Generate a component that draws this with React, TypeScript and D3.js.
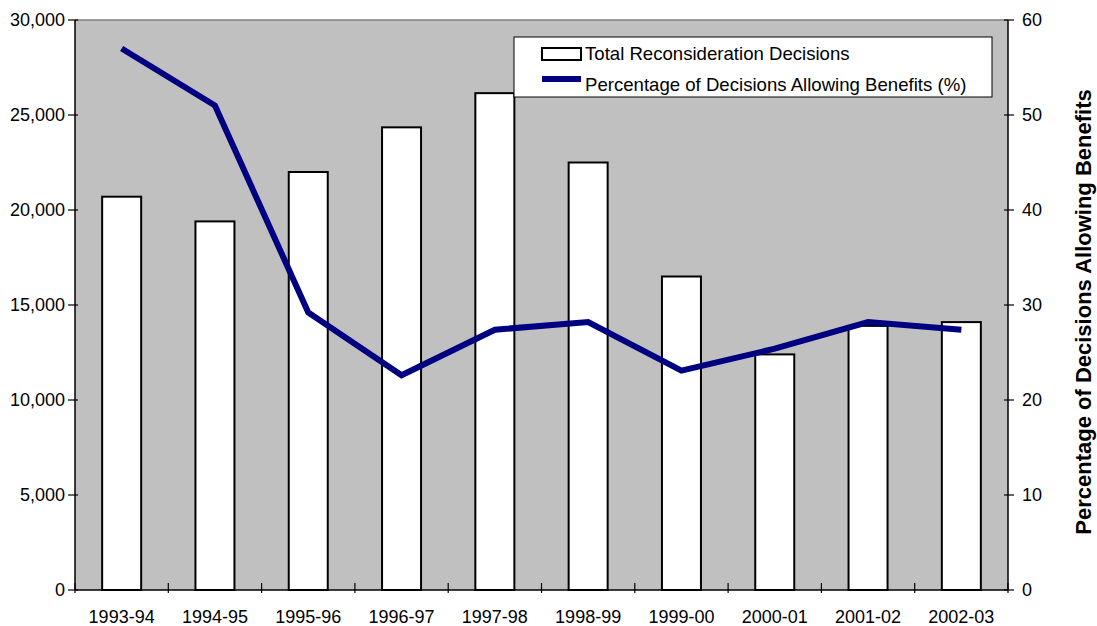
import React from "react";
import * as d3 from "d3";

const categories = ["1993-94", "1994-95", "1995-96", "1996-97", "1997-98", "1998-99", "1999-00", "2000-01", "2001-02", "2002-03"];
const totalDecisions = [20700, 19400, 22000, 24350, 26150, 22500, 16500, 12400, 13900, 14100];
const pctAllowing = [57, 51, 29.2, 22.6, 27.4, 28.2, 23.1, 25.4, 28.2, 27.4];
const leftTicks = [0, 5000, 10000, 15000, 20000, 25000, 30000];
const rightTicks = [0, 10, 20, 30, 40, 50, 60];
const legendLabels = ["Total Reconsideration Decisions", "Percentage of Decisions Allowing Benefits (%)"];
const rightTitle = "Percentage of Decisions Allowing Benefits";

const W = 1097, H = 626;
const L = 75, R = 1008, T = 20, B = 590;
const font = "'Liberation Sans', Arial, sans-serif";

export default function App() {
  const x = d3.scaleBand<string>().domain(categories).range([L, R]).paddingInner(0).paddingOuter(0);
  const bw = 39;
  const yL = d3.scaleLinear().domain([0, 30000]).range([B, T]);
  const yR = d3.scaleLinear().domain([0, 60]).range([B, T]);
  const fmt = d3.format(",");
  const line = d3.line<number>()
    .x((_, i) => (x(categories[i]) as number) + x.bandwidth() / 2)
    .y((d) => yR(d));
  const boundaries = categories.map((c) => x(c) as number).concat([R]);

  return (
    <svg width={W} height={H} style={{ position: "absolute", left: 0, top: 0, background: "#fff" }} fontFamily={font}>
      <rect x={L} y={T} width={R - L} height={B - T} fill="#c0c0c0" />
      <line x1={L} x2={R} y1={T} y2={T} stroke="#808080" strokeWidth={1.5} />
      {categories.map((c, i) => {
        const cx = (x(c) as number) + x.bandwidth() / 2;
        return (
          <rect key={c} x={cx - bw / 2} y={yL(totalDecisions[i])} width={bw} height={B - yL(totalDecisions[i])}
            fill="#fff" stroke="#000" strokeWidth={2} />
        );
      })}
      <path d={line(pctAllowing) || ""} fill="none" stroke="#000080" strokeWidth={6} strokeLinejoin="miter" />
      {/* axes */}
      <line x1={L} x2={L} y1={T} y2={B} stroke="#000" strokeWidth={1.5} />
      <line x1={R} x2={R} y1={T} y2={B} stroke="#000" strokeWidth={1.5} />
      <line x1={L} x2={R} y1={B} y2={B} stroke="#000" strokeWidth={1.5} />
      {leftTicks.map((t) => (
        <g key={"l" + t}>
          <line x1={L - 7} x2={L + 3} y1={yL(t)} y2={yL(t)} stroke="#000" strokeWidth={1.2} />
          <text x={L - 10} y={yL(t)} dy="0.35em" textAnchor="end" fontSize={18} fill="#000">{fmt(t)}</text>
        </g>
      ))}
      {rightTicks.map((t) => (
        <g key={"r" + t}>
          <line x1={R - 4} x2={R + 6} y1={yR(t)} y2={yR(t)} stroke="#000" strokeWidth={1.2} />
          <text x={R + 14} y={yR(t)} dy="0.35em" textAnchor="start" fontSize={18} fill="#000">{t}</text>
        </g>
      ))}
      {boundaries.map((bx, i) => (
        <line key={"b" + i} x1={bx} x2={bx} y1={B - 7} y2={B + 3} stroke="#000" strokeWidth={1.2} />
      ))}
      {categories.map((c) => (
        <text key={"c" + c} x={(x(c) as number) + x.bandwidth() / 2} y={623} textAnchor="middle" fontSize={18} fill="#000">{c}</text>
      ))}
      <text transform={`translate(1091, 312) rotate(-90)`} textAnchor="middle" fontSize={22} fontWeight="bold" fill="#000">{rightTitle}</text>
      {/* legend */}
      <rect x={514} y={37} width={478} height={60} fill="#fff" stroke="#000" strokeWidth={1} />
      <rect x={542} y={48} width={39} height={12} fill="#fff" stroke="#000" strokeWidth={2} />
      <text x={585} y={53.5} dy="0.35em" fontSize={18.6} fill="#000">{legendLabels[0]}</text>
      <line x1={542} x2={581} y1={79} y2={79} stroke="#000080" strokeWidth={6} />
      <text x={585} y={84} dy="0.35em" fontSize={18.6} fill="#000">{legendLabels[1]}</text>
    </svg>
  );
}
